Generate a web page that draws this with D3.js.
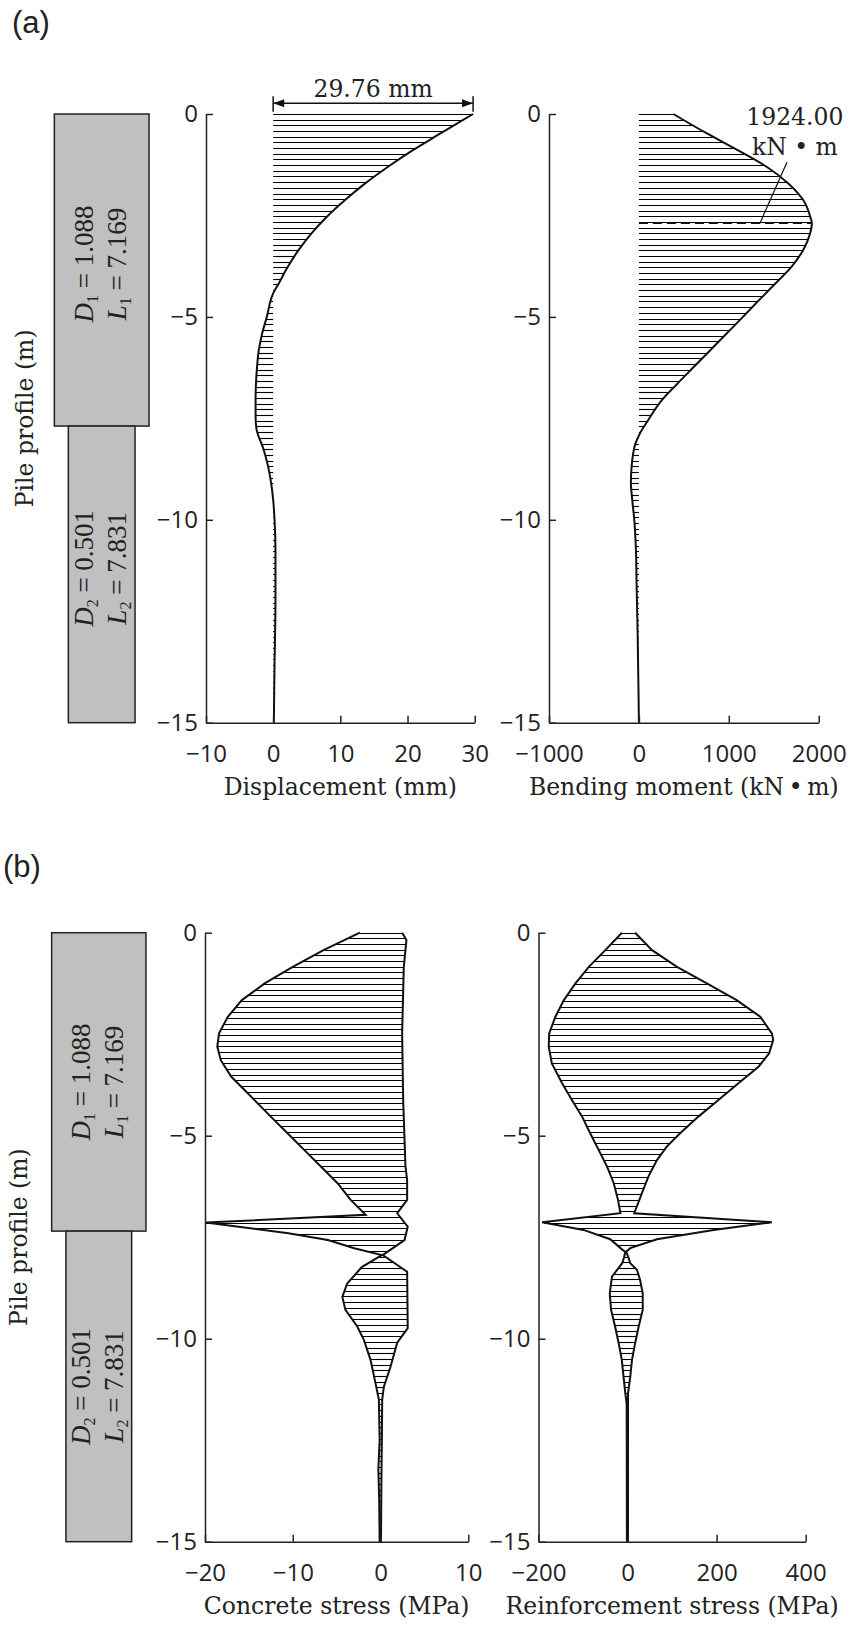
<!DOCTYPE html>
<html>
<head>
<meta charset="utf-8">
<script src="https://d3js.org/d3.v7.min.js"></script>
<style>
body { margin: 0; background: #fff; }
svg { display: block; }
.axis { color: #222; }
.axis path, .axis line { stroke-width: 1.5px; }
.axis text { font-family: "Open Sans", sans-serif; font-size: 24px; fill: #222; }
.title { font-family: "DejaVu Serif", serif; font-size: 23.5px; fill: #222; }
.note { font-family: "DejaVu Serif", serif; font-size: 23.5px; fill: #222; }
.panel { font-family: "Liberation Sans", Arial, sans-serif; font-size: 31px; fill: #222; }
.pile { fill: #c0c0c0; stroke: #222; stroke-width: 1.5px; }
.pile-label { font-family: "Liberation Serif", serif; font-size: 27px; fill: #222; }
.hatch { stroke: #000; stroke-width: 1.1px; }
.curve { fill: none; stroke: #111; stroke-width: 2px; }
</style>
</head>
<body>
<svg id="chart" width="858" height="1625"></svg>
<script>
// ---- values (elevation along the pile, m) ----
var depthTicks = [0, -5, -10, -15];
var dispTicks = [-10, 0, 10, 20, 30];
var momentTicks = [-1000, 0, 1000, 2000];
var concTicks = [-20, -10, 0, 10];
var rebarTicks = [-200, 0, 200, 400];

var pileDiam = ["1.088", "0.501"];
var pileLen = ["7.169", "7.831"];
var pileSplit = [-7.69, -7.35];   // where the section changes, panel (a) / (b)

// displacement (mm)
var dispDepth = [0, -0.23, -0.48, -0.89, -1.30, -1.71, -2.12, -2.53, -2.94, -3.35, -3.76, -4.17, -4.42, -5.0, -5.41, -5.82, -6.23, -6.64, -7.05, -7.45, -7.745, -8.28, -8.69, -9.1, -9.51, -9.98, -10.74, -11.98, -13.6, -15];
var dispValue = [29.76, 27.4, 24.9, 20.8, 17.1, 13.7, 10.7, 8.0, 5.7, 3.8, 2.2, 0.85, 0, -0.95, -1.64, -2.14, -2.4, -2.56, -2.62, -2.62, -2.5, -1.4, -0.75, -0.3, 0, 0.2, 0.34, 0.34, 0.2, 0.1];

// bending moment (kN·m)
var momentDepth = [0, -0.48, -0.89, -1.30, -1.71, -2.12, -2.53, -2.69, -2.94, -3.35, -3.76, -4.17, -4.58, -5.0, -5.41, -5.82, -6.23, -6.64, -7.05, -7.54, -7.87, -8.11, -8.68, -9.09, -9.51, -9.98, -10.75, -11.56, -12.8, -15];
var momentValue = [383, 757, 1098, 1420, 1662, 1828, 1906, 1924, 1905, 1828, 1699, 1521, 1339, 1157, 976, 794, 612, 430, 255, 104, 12, -37, -81, -89, -74, -52, -33, -26, -14, 0];

// concrete stress (MPa), compression side and tension side
var concNegDepth = [0, -0.43, -0.84, -1.25, -1.66, -2.07, -2.48, -2.81, -3.14, -3.55, -3.96, -4.53, -4.94, -5.35, -5.76, -6.17, -6.58, -6.95, -7.14, -7.4, -7.57, -7.77, -7.94, -8.23, -8.64, -8.97, -9.29, -9.7, -10.03, -10.52, -11.1, -11.5, -12.5, -13.2, -14, -15];
var concNeg = [-2.35, -6.5, -10.0, -13.2, -15.8, -17.4, -18.4, -18.6, -18.2, -17.0, -15.1, -12.5, -10.6, -8.7, -6.8, -4.9, -3.4, -1.7, -19.9, -10.5, -6.0, -3.0, 0.15, -2.1, -3.8, -4.35, -4.0, -2.65, -1.9, -1.14, -0.57, -0.19, -0.1, -0.25, -0.15, -0.1];
var concPosDepth = [0, -0.18, -0.43, -0.84, -2.48, -4.12, -5.76, -6.09, -6.58, -6.91, -7.24, -7.57, -7.94, -8.35, -9.74, -10.1, -10.69, -11.18, -11.5, -12.5, -13.5, -15];
var concPos = [2.46, 2.95, 2.84, 2.65, 2.46, 2.58, 2.84, 3.03, 3.03, 1.9, 3.1, 2.73, 0.25, 3.03, 3.1, 1.9, 1.14, 0.38, 0.19, 0.15, 0.1, 0.05];

// reinforcement stress (MPa)
var rebarNegDepth = [0, -0.43, -0.84, -1.25, -1.66, -2.07, -2.48, -2.81, -3.22, -3.71, -4.12, -4.53, -4.94, -5.35, -5.76, -6.17, -6.58, -6.91, -7.13, -7.32, -7.55, -7.8, -7.86, -8.0, -8.14, -8.47, -8.88, -9.29, -9.7, -10.11, -10.52, -10.94, -11.35, -11.6, -15];
var rebarNeg = [-12.6, -50, -87, -117, -143, -162, -176, -177, -170, -147, -125, -102, -84, -65, -46, -31, -21.5, -16, -192, -99, -39, -12.6, -5, -8, -12, -35, -40, -37, -28, -20, -13, -9, -5, -2, -1.5];
var rebarPosDepth = [0, -0.43, -0.84, -1.25, -1.66, -2.07, -2.48, -2.64, -2.97, -3.3, -3.71, -4.12, -4.53, -4.94, -5.27, -5.6, -6.0, -6.42, -6.91, -7.13, -7.32, -7.55, -7.77, -7.86, -8.0, -8.14, -8.3, -8.55, -8.88, -9.29, -9.7, -10.11, -10.52, -10.94, -11.35, -11.6, -15];
var rebarPos = [17, 55, 111, 178, 245, 298, 324, 327, 318, 294, 249, 204, 159, 118, 88, 66, 47, 32, 15, 324, 193, 66, 6, -3, 2, 6, 21, 28, 34, 34, 25, 17, 10, 6, 1, 1, 1];

var svg = d3.select("#chart");

// scales (layout)
var yA = d3.scaleLinear().domain([0, -15]).range([114, 722.7]);
var yB = d3.scaleLinear().domain([0, -15]).range([932.7, 1541.7]);
var xDisp = d3.scaleLinear().domain([-10, 30]).range([206, 474.7]);
var xMoment = d3.scaleLinear().domain([-1000, 2000]).range([549, 818.7]);
var xConc = d3.scaleLinear().domain([-20, 10]).range([205, 468.3]);
var xRebar = d3.scaleLinear().domain([-200, 400]).range([538.5, 805.7]);

var hatchDepths = d3.range(0, -15, -0.14);

function axes(x, y, xTicks, title) {
  var left = x.range()[0], bottom = y.range()[1];
  svg.append("g").attr("class", "axis")
    .attr("transform", "translate(" + left + ",0)")
    .call(d3.axisLeft(y).tickValues(depthTicks).tickFormat(d3.format("d"))
      .tickSizeInner(-7).tickSizeOuter(0).tickPadding(8));
  svg.append("g").attr("class", "axis")
    .attr("transform", "translate(0," + bottom + ")")
    .call(d3.axisBottom(x).tickValues(xTicks).tickFormat(d3.format("d"))
      .tickSizeInner(-7).tickSizeOuter(0).tickPadding(22));
  svg.append("text").attr("class", "title")
    .attr("x", d3.mean(x.range())).attr("y", bottom + 72)
    .attr("text-anchor", "middle").text(title);
}

function hatch(x, y, leftFn, rightFn) {
  svg.append("g").selectAll("line").data(hatchDepths).join("line")
    .attr("class", "hatch")
    .attr("x1", d => x(leftFn(d))).attr("x2", d => x(rightFn(d)))
    .attr("y1", d => Math.round(y(d)) + 0.5).attr("y2", d => Math.round(y(d)) + 0.5);
}

function profile(x, y, depth, value, curve) {
  svg.append("path").datum(d3.zip(depth, value)).attr("class", "curve")
    .attr("d", d3.line().x(d => x(d[1])).y(d => y(d[0])).curve(curve));
}

function interp(depth, value) {
  return d3.scaleLinear().domain(depth).range(value).clamp(true);
}

function pileLabel(cx, cy, n) {
  var g = svg.append("g").attr("transform", "translate(" + cx + "," + cy + ") rotate(-90)");
  [["D", pileDiam[n], -8.5], ["L", pileLen[n], 24]].forEach(function(r) {
    var t = g.append("text").attr("class", "pile-label").attr("y", r[2]).attr("text-anchor", "middle");
    t.append("tspan").attr("font-style", "italic").text(r[0]);
    t.append("tspan").attr("font-size", "16px").attr("dy", 5).text(n + 1);
    t.append("tspan").attr("dy", -5).text(" = " + r[1]);
  });
}

function pile(y, split, cx, wTop, wBot, labelX, textShift) {
  svg.append("rect").attr("class", "pile")
    .attr("x", cx - wTop / 2).attr("width", wTop)
    .attr("y", y(0)).attr("height", y(split) - y(0));
  svg.append("rect").attr("class", "pile")
    .attr("x", cx - wBot / 2).attr("width", wBot)
    .attr("y", y(split)).attr("height", y(-15) - y(split));
  pileLabel(cx, (y(0) + y(split)) / 2 + textShift, 0);
  pileLabel(cx, (y(split) + y(-15)) / 2 + textShift, 1);
  svg.append("text").attr("class", "title")
    .attr("transform", "translate(" + labelX + "," + d3.mean(y.range()) + ") rotate(-90)")
    .attr("text-anchor", "middle").text("Pile profile (m)");
}

// ---------- panel (a) ----------
svg.append("text").attr("class", "panel").attr("x", 12).attr("y", 33).text("(a)");
pile(yA, pileSplit[0], 101.7, 94.7, 66.7, 33, -6);

// displacement
var dispAt = interp(dispDepth, dispValue);
hatch(xDisp, yA, () => 0, dispAt);
profile(xDisp, yA, dispDepth, dispValue, d3.curveMonotoneY);
axes(xDisp, yA, dispTicks, "Displacement (mm)");

// dimension arrow for the head displacement
var dMax = d3.max(dispValue);
var ya = yA(0) - 10.7, xa0 = xDisp(0), xa1 = xDisp(dMax);
svg.append("line").attr("x1", xa0).attr("x2", xa1).attr("y1", ya).attr("y2", ya)
  .attr("stroke", "#111").attr("stroke-width", 1.5);
[xa0, xa1].forEach(function(xx, i) {
  var s = i === 0 ? 1 : -1;
  svg.append("line").attr("x1", xx).attr("x2", xx).attr("y1", ya - 7).attr("y2", ya + 8.5)
    .attr("stroke", "#111").attr("stroke-width", 1.5);
  svg.append("path").attr("fill", "#111")
    .attr("d", "M" + xx + "," + ya + "L" + (xx + s * 11) + "," + (ya - 4) + "L" + (xx + s * 11) + "," + (ya + 4) + "Z");
});
svg.append("text").attr("class", "note").attr("x", (xa0 + xa1) / 2).attr("y", ya - 6.6)
  .attr("text-anchor", "middle").text(d3.format(".2f")(dMax) + " mm");

// bending moment
var momentAt = interp(momentDepth, momentValue);
hatch(xMoment, yA, () => 0, momentAt);
profile(xMoment, yA, momentDepth, momentValue, d3.curveMonotoneY);
axes(xMoment, yA, momentTicks, "Bending moment (kN\u2009\u2022\u2009m)");

var mMax = d3.max(momentValue);
var mDepth = momentDepth[momentValue.indexOf(mMax)];
svg.append("line").attr("x1", xMoment(0)).attr("x2", xMoment(mMax))
  .attr("y1", yA(mDepth)).attr("y2", yA(mDepth))
  .attr("stroke", "#111").attr("stroke-width", 1.6).attr("stroke-dasharray", "9,5");
var lx = xMoment(mMax * 0.7), ly = yA(mDepth);
svg.append("line").attr("x1", lx).attr("y1", ly).attr("x2", lx + 27).attr("y2", ly - 61)
  .attr("stroke", "#111").attr("stroke-width", 1.2);
svg.append("text").attr("class", "note").attr("x", xMoment(mMax) - 17).attr("y", yA(0) + 11)
  .attr("text-anchor", "middle").text(d3.format(".2f")(mMax));
svg.append("text").attr("class", "note").attr("x", xMoment(mMax) - 17).attr("y", yA(0) + 41)
  .attr("text-anchor", "middle").text("kN \u2022 m");

// ---------- panel (b) ----------
svg.append("text").attr("class", "panel").attr("x", 3).attr("y", 877).text("(b)");
pile(yB, pileSplit[1], 98.8, 94.3, 65.7, 27, 0);

// concrete stress
hatch(xConc, yB, interp(concNegDepth, concNeg), interp(concPosDepth, concPos));
profile(xConc, yB, concNegDepth, concNeg, d3.curveLinear);
profile(xConc, yB, concPosDepth, concPos, d3.curveLinear);
axes(xConc, yB, concTicks, "Concrete stress (MPa)");

// reinforcement stress
hatch(xRebar, yB, interp(rebarNegDepth, rebarNeg), interp(rebarPosDepth, rebarPos));
profile(xRebar, yB, rebarNegDepth, rebarNeg, d3.curveLinear);
profile(xRebar, yB, rebarPosDepth, rebarPos, d3.curveLinear);
axes(xRebar, yB, rebarTicks, "Reinforcement stress (MPa)");
</script>
</body>
</html>
